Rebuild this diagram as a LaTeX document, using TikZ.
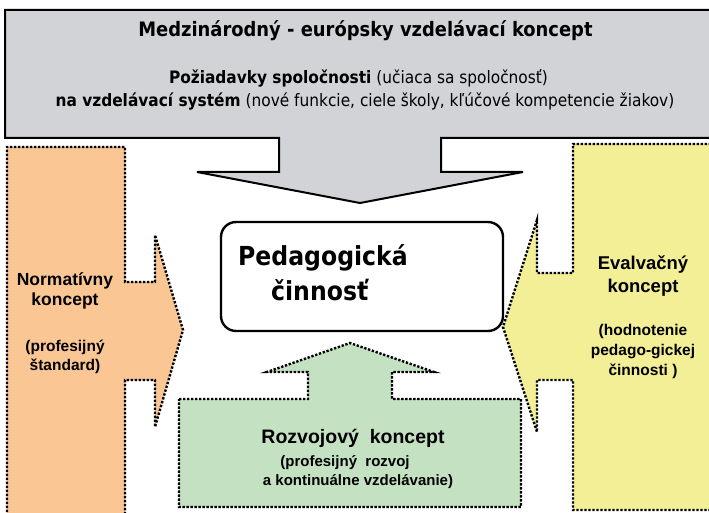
\documentclass[tikz,border=0pt]{standalone}
\usepackage{fontspec}
\setmainfont{Liberation Sans}
\newfontfamily\tah{DejaVu Sans Condensed}
\definecolor{grayfill}{RGB}{210,211,214}
\definecolor{orangefill}{RGB}{250,199,148}
\definecolor{yellowfill}{RGB}{242,239,150}
\definecolor{greenfill}{RGB}{196,225,194}
\tikzset{
  solidshape/.style={draw=black, line width=2pt, line join=miter},
  dotshape/.style={draw=black, line width=2.4pt, dash pattern=on 2.3pt off 1.7pt},
  txt/.style={anchor=base, inner sep=0pt, align=center},
}
\begin{document}
\begin{tikzpicture}[x=1pt,y=-1pt]
\useasboundingbox (0,0) rectangle (709,513);
\begin{scope}
\clip (0,0) rectangle (709,513);
% top gray block arrow
\path[solidshape, fill=grayfill]
  (5,10) -- (712,10) -- (712,138) -- (441,138) -- (441,172) -- (523,172)
  -- (360,203) -- (197,172) -- (279,172) -- (279,138) -- (5,138) -- cycle;
% orange block arrow
\path[dotshape, fill=orangefill]
  (7,520) -- (7,147) -- (125,147) -- (125,282) -- (155,282) -- (155,235)
  -- (183,330) -- (155,427) -- (155,380) -- (125,380) -- (125,520);
% yellow block arrow
\path[dotshape, fill=yellowfill]
  (715,144) -- (573,144) -- (573,273) -- (537,273) -- (537,220)
  -- (503,327) -- (537,432) -- (537,380) -- (573,380) -- (573,510) -- (715,510);
% green block arrow
\path[dotshape, fill=greenfill]
  (179,399) -- (308,399) -- (308,372) -- (267,372) -- (350,343) -- (434,372)
  -- (392,372) -- (392,399) -- (521,399) -- (521,507) -- (179,507) -- cycle;
\end{scope}
% central rounded box
\node[draw=black, line width=2.4pt, rounded corners=15pt, minimum width=282pt,
      minimum height=109pt, inner sep=0pt] (center) at (362,276.5) {};
\node[anchor=base west, inner sep=0pt, font=\tah\bfseries\fontsize{26.2}{29}\selectfont] (ped1) at (238,265) {Pedagogická};
\node[anchor=base west, inner sep=0pt, font=\tah\bfseries\fontsize{26.2}{29}\selectfont] (ped2) at (271,300) {činnosť};
% top texts
\node[txt, font=\tah\bfseries\fontsize{19.9}{23}\selectfont] (title) at (365.5,37) {Medzinárodný - európsky vzdelávací koncept};
\node[txt, font=\tah\fontsize{17.1}{20}\selectfont] (req1) at (358.5,84) {\textbf{Požiadavky spoločnosti} (učiaca sa spoločnosť)};
\node[txt, font=\tah\fontsize{17.1}{20}\selectfont] (req2) at (365,107) {\textbf{na vzdelávací systém} (nové funkcie, ciele školy, kľúčové kompetencie žiakov)};
% orange texts
\node[txt, font=\bfseries\fontsize{17.5}{20}\selectfont] (norm1) at (65,285) {Normatívny};
\node[txt, font=\bfseries\fontsize{17.5}{20}\selectfont] (norm2) at (65,305) {koncept};
\node[txt, font=\bfseries\fontsize{15.5}{18}\selectfont] (norm3) at (65,351) {(profesijný};
\node[txt, font=\bfseries\fontsize{15.5}{18}\selectfont] (norm4) at (65,370) {štandard)};
% yellow texts
\node[txt, font=\bfseries\fontsize{18.5}{21}\selectfont] (eval1) at (643,269) {Evalvačný};
\node[txt, font=\bfseries\fontsize{18.5}{21}\selectfont] (eval2) at (643,292) {koncept};
\node[txt, font=\bfseries\fontsize{15.5}{18}\selectfont] (eval3) at (643,335) {(hodnotenie};
\node[txt, font=\bfseries\fontsize{15.5}{18}\selectfont] (eval4) at (643,355) {pedago-gickej};
\node[txt, font=\bfseries\fontsize{15.5}{18}\selectfont] (eval5) at (643,375) {činnosti )};
% green texts
\node[txt, font=\bfseries\fontsize{19.5}{22}\selectfont] (roz1) at (353,443) {Rozvojový\ \ koncept};
\node[txt, font=\bfseries\fontsize{15}{18}\selectfont] (roz2) at (345,466) {(profesijný\ \ rozvoj};
\node[txt, font=\bfseries\fontsize{15}{18}\selectfont] (roz3) at (358,485) {a kontinuálne vzdelávanie)};
\end{tikzpicture}
\end{document}
